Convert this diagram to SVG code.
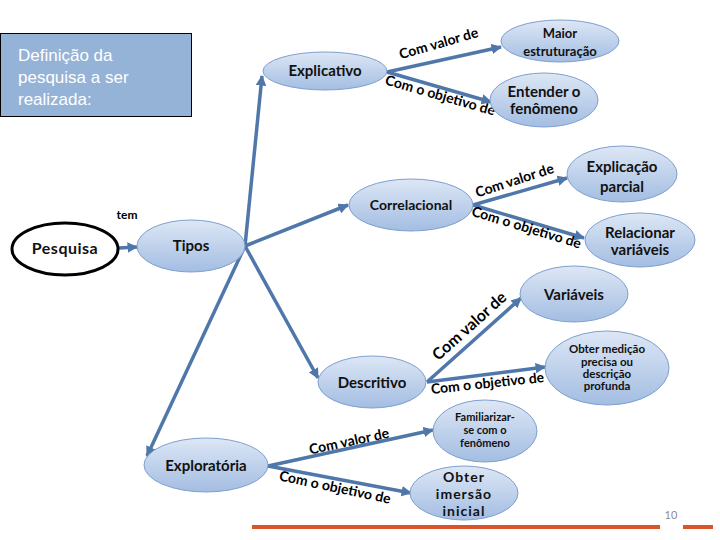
<svg xmlns="http://www.w3.org/2000/svg" width="720" height="540" viewBox="0 0 720 540">
<defs>
<linearGradient id="g" x1="0" y1="0" x2="0" y2="1">
<stop offset="0" stop-color="#dde7f5"/>
<stop offset="1" stop-color="#a3bde2"/>
</linearGradient>
<marker id="ah" viewBox="0 0 10 10" refX="9" refY="5" markerWidth="3" markerHeight="3" orient="auto">
<path d="M0,0 L10,5 L0,10 Z" fill="#4f77aa"/>
</marker>
<style>
.n{fill:url(#g);stroke:#7e9fcf;stroke-width:1}
.t{font-family:Lato,"Liberation Sans",sans-serif;font-weight:bold;fill:#111;text-anchor:middle}
.l{font-family:Lato,"Liberation Sans",sans-serif;font-weight:bold;fill:#000;text-anchor:middle;font-size:14px}
.c{stroke:#4f77aa;stroke-width:3.5;fill:none;marker-end:url(#ah)}
</style>
</defs>
<rect width="720" height="540" fill="#fff"/>
<g id="definicao">
<rect x="0.5" y="33.5" width="191" height="83" fill="#95b3d7" stroke="#000" stroke-width="1"/>
<text font-family="'Liberation Sans',Arial,sans-serif" font-size="17" fill="#fff"><tspan x="18" y="61">Definição da</tspan><tspan x="18" y="83">pesquisa a ser</tspan><tspan x="18" y="105">realizada:</tspan></text>
</g>
<g id="connectors">
<path class="c" d="M119,248 L137,247"/>
<path class="c" d="M245,246 L262,76"/>
<path class="c" d="M245,246 L348,205"/>
<path class="c" d="M245,246 L318,378"/>
<path class="c" d="M245,246 L147,456"/>
<path class="c" d="M387,72 L501,47"/>
<path class="c" d="M387,72 L491,102"/>
<path class="c" d="M473,205 L567,178"/>
<path class="c" d="M473,205 L584,238"/>
<path class="c" d="M427,382 L521,298"/>
<path class="c" d="M427,382 L545,367"/>
<path class="c" d="M268,466 L433,430"/>
<path class="c" d="M268,466 L411,493"/>
<text class="l" x="0" y="0" style="font-size:12px" transform="translate(127,219)">tem</text>
<text class="l" transform="translate(440,48) rotate(-16)">Com valor de</text>
<text class="l" transform="translate(439,100) rotate(16)">Com o objetivo de</text>
<text class="l" transform="translate(516,185) rotate(-18)">Com valor de</text>
<text class="l" transform="translate(525,232) rotate(17)">Com o objetivo de</text>
<text class="l" style="font-size:16px" transform="translate(473,330) rotate(-42)">Com valor de</text>
<text class="l" transform="translate(488,388) rotate(-6)">Com o objetivo de</text>
<text class="l" transform="translate(350,446) rotate(-12)">Com valor de</text>
<text class="l" transform="translate(334,492) rotate(12)">Com o objetivo de</text>
</g>
<g id="pesquisa">
<ellipse cx="65" cy="249" rx="53" ry="26" fill="#fff" stroke="#000" stroke-width="3"/>
<text class="t" x="65" y="254" font-size="16" letter-spacing="0.5">Pesquisa</text>
</g>
<g id="tipos">
<ellipse class="n" cx="191" cy="246" rx="54" ry="26"/>
<text class="t" x="191" y="251" font-size="15">Tipos</text>
</g>
<g id="explicativo">
<ellipse class="n" cx="325" cy="71" rx="62" ry="19"/>
<text class="t" x="325" y="76" font-size="15">Explicativo</text>
</g>
<g id="maior">
<ellipse class="n" cx="560" cy="41" rx="59" ry="21"/>
<text class="t" font-size="13"><tspan x="560" y="38">Maior</tspan><tspan x="560" y="56">estruturação</tspan></text>
</g>
<g id="entender">
<ellipse class="n" cx="544" cy="100" rx="54" ry="27"/>
<text class="t" font-size="15"><tspan x="544" y="97">Entender o</tspan><tspan x="544" y="114">fenômeno</tspan></text>
</g>
<g id="correlacional">
<ellipse class="n" cx="411" cy="205" rx="62" ry="26"/>
<text class="t" x="411" y="210" font-size="14" font-weight="normal">Correlacional</text>
</g>
<g id="explicacao">
<ellipse class="n" cx="622" cy="174" rx="55" ry="28"/>
<text class="t" font-size="15"><tspan x="622" y="172">Explicação</tspan><tspan x="622" y="192">parcial</tspan></text>
</g>
<g id="relacionar">
<ellipse class="n" cx="640" cy="240" rx="55" ry="27"/>
<text class="t" font-size="15"><tspan x="640" y="238">Relacionar</tspan><tspan x="640" y="255">variáveis</tspan></text>
</g>
<g id="variaveis">
<ellipse class="n" cx="574" cy="294" rx="54" ry="28"/>
<text class="t" x="574" y="300" font-size="15">Variáveis</text>
</g>
<g id="descritivo">
<ellipse class="n" cx="372" cy="382" rx="54" ry="26"/>
<text class="t" x="372" y="388" font-size="15">Descritivo</text>
</g>
<g id="obtermedicao">
<ellipse class="n" cx="607" cy="368" rx="62" ry="37"/>
<text class="t" font-size="11.5"><tspan x="607" y="353">Obter medição</tspan><tspan x="607" y="366">precisa ou</tspan><tspan x="607" y="378">descrição</tspan><tspan x="607" y="390">profunda</tspan></text>
</g>
<g id="exploratoria">
<ellipse class="n" cx="206" cy="465" rx="62" ry="27"/>
<text class="t" x="206" y="471" font-size="15">Exploratória</text>
</g>
<g id="familiarizar">
<ellipse class="n" cx="485" cy="431" rx="52" ry="31"/>
<text class="t" font-size="11"><tspan x="485" y="421">Familiarizar-</tspan><tspan x="485" y="434">se com o</tspan><tspan x="485" y="447">fenômeno</tspan></text>
</g>
<g id="imersao">
<ellipse class="n" cx="464" cy="493" rx="54" ry="27"/>
<text class="t" font-size="14" letter-spacing="1"><tspan x="464" y="482">Obter</tspan><tspan x="464" y="499">imersão</tspan><tspan x="464" y="516">inicial</tspan></text>
</g>
<g id="footer">
<rect x="252" y="525" width="408" height="4" fill="#d9542b"/>
<rect x="683" y="525" width="30" height="4" fill="#d9542b"/>
<text x="671" y="519" font-family="Lato,'Liberation Sans',sans-serif" font-size="11" fill="#8c8c8c" text-anchor="middle">10</text>
</g>
</svg>
